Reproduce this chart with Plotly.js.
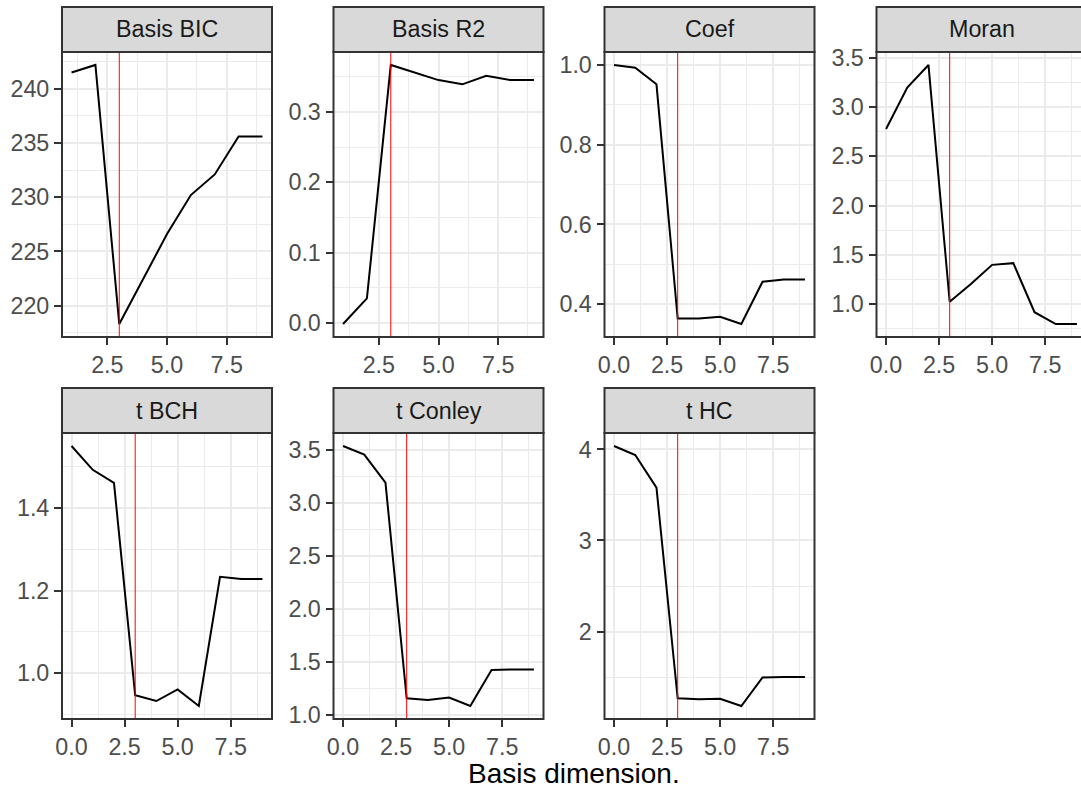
<!DOCTYPE html>
<html>
<head>
<meta charset="utf-8">
<script src="https://cdn.plot.ly/plotly-3.0.1.min.js"></script>
<style>html,body{margin:0;padding:0;background:#fff;}#chart{width:1081px;height:789px;}</style>
</head>
<body>
<div id="chart"></div>
<script>
// ---- data ----
const panelNames = ["Basis BIC", "Basis R2", "Coef", "Moran", "t BCH", "t Conley", "t HC"];
const basisDimFrom1 = [1, 2, 3, 4, 5, 6, 7, 8, 9];
const basisDimFrom0 = [0, 1, 2, 3, 4, 5, 6, 7, 8, 9];
const basisBIC = [241.5, 242.2, 218.3, 222.5, 226.6, 230.2, 232.1, 235.6, 235.6];
const basisR2  = [-0.0014, 0.035, 0.3665, 0.356, 0.345, 0.339, 0.351, 0.345, 0.345];
const coef     = [1.0, 0.993, 0.9515, 0.364, 0.364, 0.368, 0.350, 0.456, 0.462, 0.462];
const moran    = [2.777, 3.196, 3.426, 1.026, 1.206, 1.400, 1.417, 0.920, 0.800, 0.800];
const tBCH     = [1.5496, 1.492, 1.4606, 0.947, 0.933, 0.961, 0.921, 1.2335, 1.228, 1.228];
const tConley  = [3.541, 3.459, 3.194, 1.158, 1.142, 1.165, 1.085, 1.426, 1.430, 1.430];
const tHC      = [4.037, 3.938, 3.580, 1.268, 1.257, 1.262, 1.183, 1.497, 1.500, 1.500];
const selectedDim = 3;
const xAxisTitle = "Basis dimension.";

const panelX = [basisDimFrom1, basisDimFrom1, basisDimFrom0, basisDimFrom0, basisDimFrom0, basisDimFrom0, basisDimFrom0];
const panelY = [basisBIC, basisR2, coef, moran, tBCH, tConley, tHC];
const yDtick = [5, 0.1, 0.2, 0.5, 0.2, 0.5, 1];
const yFormat = ["d", ".1f", ".1f", ".1f", ".1f", ".1f", "d"];

// ---- layout geometry (pixels) ----
const W = 1081, H = 789;
const cols = [[62, 272], [333.5, 543.5], [604.5, 814.5], [876.5, 1086.5]];
const plotRows = [[52, 337], [433, 719]];
const stripRows = [[7, 52], [388, 433]];
const FONT = "Liberation Sans, Arial, Helvetica, sans-serif";
const TICK_SIZE = 23.3;
const px = v => v / W;
const py = v => 1 - v / H;

const data = [];
const layout = {
  width: W, height: H,
  margin: {l: 0, r: 0, t: 0, b: 0},
  paper_bgcolor: "#ffffff",
  plot_bgcolor: "#ffffff",
  showlegend: false,
  shapes: [],
  annotations: []
};

function expand(arr) {
  const lo = Math.min(...arr), hi = Math.max(...arr);
  const d = (hi - lo) * 0.05;
  return [lo - d, hi + d];
}

panelNames.forEach((name, i) => {
  const c = i % 4, r = Math.floor(i / 4);
  const [c0, c1] = cols[c];
  const [r0, r1] = plotRows[r];
  const [s0, s1] = stripRows[r];
  const sfx = i === 0 ? "" : String(i + 1);
  const xr = expand(panelX[i]);
  let xEndPx = c1, xRange = xr.slice();
  if (c1 > W) {
    xEndPx = W;
    xRange = [xr[0], xr[0] + (xr[1] - xr[0]) * (W - c0) / (c1 - c0)];
  }
  const yr = expand(panelY[i]);

  data.push({
    type: "scatter", mode: "lines",
    x: panelX[i], y: panelY[i],
    xaxis: "x" + sfx, yaxis: "y" + sfx,
    line: {color: "#000000", width: 2},
    hoverinfo: "skip"
  });

  const common = {
    showline: false, zeroline: false,
    ticks: "outside", ticklen: 7, tickwidth: 2, tickcolor: "#333333",
    tickfont: {family: FONT, size: TICK_SIZE, color: "#4D4D4D"},
    showgrid: true, gridcolor: "#EBEBEB", gridwidth: 2,
    fixedrange: true
  };
  layout["xaxis" + sfx] = Object.assign({}, common, {
    domain: [px(c0), px(xEndPx)],
    range: xRange,
    anchor: "y" + sfx,
    tick0: 0, dtick: 2.5, tickformat: ".1f",
    minor: {tick0: 0, dtick: 1.25, showgrid: true, gridcolor: "#EBEBEB", gridwidth: 1, ticks: ""}
  });
  layout["yaxis" + sfx] = Object.assign({}, common, {
    domain: [py(r1), py(r0)],
    range: yr,
    anchor: "x" + sfx,
    tick0: 0, dtick: yDtick[i], tickformat: yFormat[i],
    minor: {tick0: 0, dtick: yDtick[i] / 2, showgrid: true, gridcolor: "#EBEBEB", gridwidth: 1, ticks: ""}
  });

  // red reference line
  layout.shapes.push({
    type: "line", xref: "x" + sfx, yref: "y" + sfx + " domain",
    x0: selectedDim, x1: selectedDim, y0: 0, y1: 1,
    line: {color: "#FF0000", width: 1}, layer: "above"
  });
  // panel border
  layout.shapes.push({
    type: "rect", xref: "paper", yref: "paper",
    x0: px(c0), x1: px(c1), y0: py(r1), y1: py(r0),
    line: {color: "#333333", width: 2}, fillcolor: "rgba(0,0,0,0)", layer: "above"
  });
  // strip
  layout.shapes.push({
    type: "rect", xref: "paper", yref: "paper",
    x0: px(c0), x1: px(c1), y0: py(s1), y1: py(s0),
    line: {color: "#333333", width: 2}, fillcolor: "#D9D9D9", layer: "above"
  });
  layout.annotations.push({
    xref: "paper", yref: "paper",
    x: px((c0 + c1) / 2), y: py((s0 + s1) / 2),
    xanchor: "center", yanchor: "middle",
    text: name, showarrow: false, borderpad: 0,
    font: {family: FONT, size: TICK_SIZE, color: "#1A1A1A"}
  });
});

layout.annotations.push({
  xref: "paper", yref: "paper",
  x: px((cols[0][0] + cols[3][1]) / 2), y: py(773.5),
  xanchor: "center", yanchor: "middle",
  text: xAxisTitle, showarrow: false, borderpad: 0,
  font: {family: FONT, size: 28, color: "#000000"}
});

Plotly.newPlot("chart", data, layout, {staticPlot: true, displayModeBar: false});
</script>
</body>
</html>
